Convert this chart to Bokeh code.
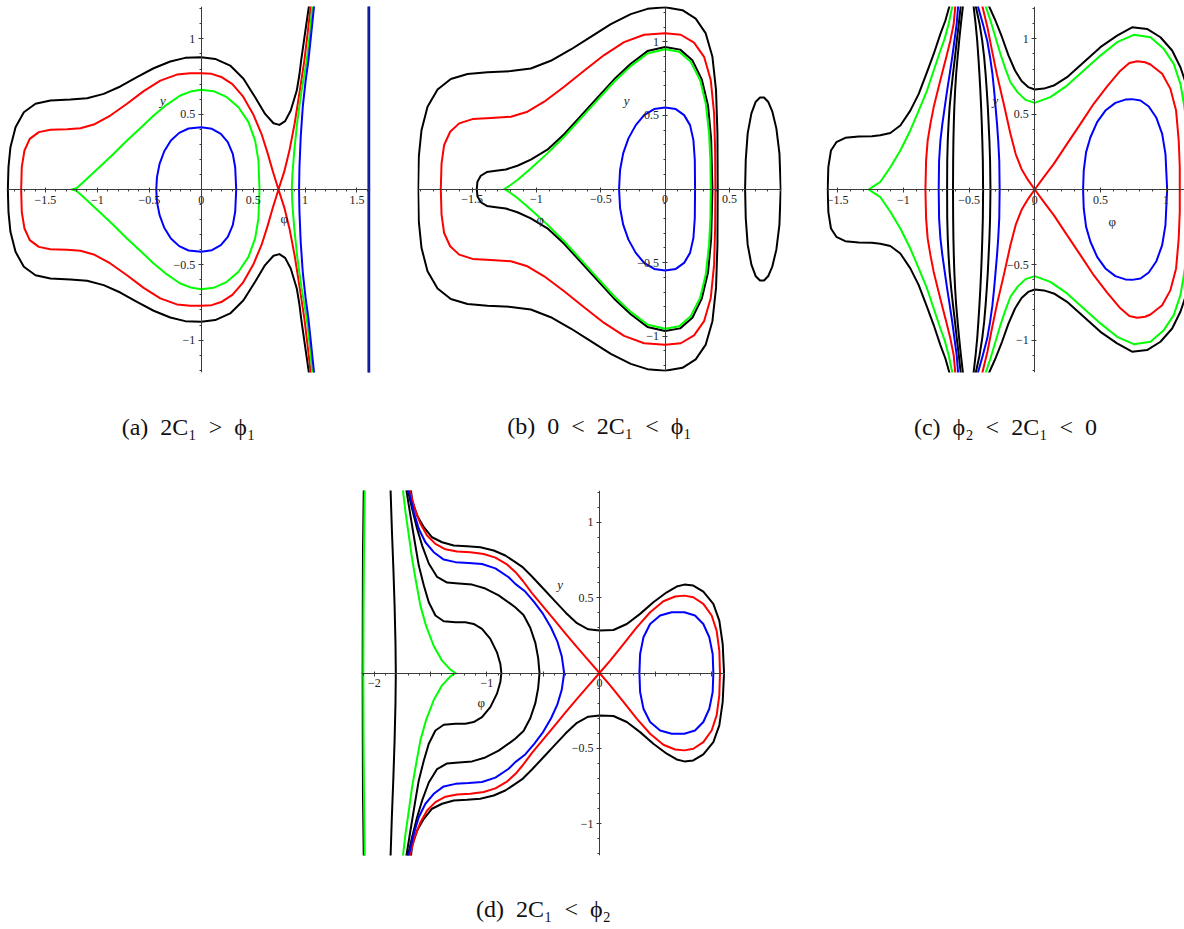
from bokeh.plotting import figure
from bokeh.models import Range1d, FixedTicker, Label, Title
from bokeh.layouts import row, column
from bokeh.embed import file_html
from bokeh.resources import INLINE

BLACK, RED, GREEN, BLUE = "#000000", "#ff0000", "#00ff00", "#0000ff"

# ---------------- panel (a): 2C1 > phi1 ----------------
a_blue_x = [-0.433, -0.426, -0.401, -0.356, -0.292, -0.212, -0.122, 0.0, 0.103, 0.189, 0.256, 0.304, 0.327, 0.337]
a_blue_y = [0.0, 0.082, 0.170, 0.254, 0.325, 0.376, 0.405, 0.414, 0.403, 0.369, 0.314, 0.237, 0.148, 0.0]
a_green_x = [-1.244, -1.202, -1.147, -1.067, -0.971, -0.843, -0.715, -0.587, -0.458, -0.330, -0.202, -0.090, 0.0,
             0.119, 0.247, 0.359, 0.455, 0.519, 0.551, 0.561]
a_green_y = [0.0, 0.009, 0.042, 0.093, 0.155, 0.237, 0.325, 0.407, 0.491, 0.564, 0.624, 0.653, 0.662,
             0.653, 0.613, 0.546, 0.447, 0.325, 0.192, 0.0]
a_red_arc_x = [-1.734, -1.728, -1.702, -1.651, -1.564, -1.452, -1.292, -1.163, -1.035, -0.875, -0.715, -0.554,
               -0.394, -0.234, -0.106, 0.0, 0.1, 0.2, 0.3, 0.4, 0.5, 0.58, 0.64, 0.69, 0.744]
a_red_arc_y = [0.0, 0.148, 0.259, 0.336, 0.381, 0.396, 0.400, 0.407, 0.431, 0.491, 0.569, 0.653,
               0.723, 0.763, 0.772, 0.772, 0.768, 0.745, 0.70, 0.62, 0.50, 0.37, 0.24, 0.12, 0.0]
a_red_branch_x = [0.744, 0.80, 0.85, 0.90, 0.95, 0.993, 1.025, 1.055]
a_red_branch_y = [0.0, 0.12, 0.26, 0.44, 0.66, 0.856, 1.04, 1.221]
a_black_x = [1.038, 1.0, 0.962, 0.945, 0.920, 0.862, 0.808, 0.753, 0.696, 0.615, 0.519, 0.407, 0.279, 0.135, 0.0,
             -0.154, -0.298, -0.458, -0.619, -0.779, -0.939, -1.099, -1.260, -1.452, -1.596, -1.708, -1.788,
             -1.837, -1.856, -1.862]
a_black_y = [1.221, 1.04, 0.856, 0.76, 0.657, 0.524, 0.454, 0.429, 0.440, 0.502, 0.613, 0.735, 0.823, 0.867, 0.878,
             0.874, 0.850, 0.805, 0.746, 0.684, 0.635, 0.606, 0.597, 0.591, 0.569, 0.513, 0.414,
             0.281, 0.148, 0.0]
a_green_right_x = [1.07, 1.045, 1.016, 0.965, 0.925, 0.895, 0.878, 0.872]
a_green_right_y = [1.221, 1.03, 0.856, 0.65, 0.45, 0.25, 0.1, 0.0]
a_blue_right_x = [1.087, 1.06, 1.032, 1.005, 0.978, 0.958, 0.946, 0.942]
a_blue_right_y = [1.221, 1.04, 0.856, 0.72, 0.55, 0.35, 0.15, 0.0]
a_vline_x = [1.615, 1.615]
a_vline_y = [-1.3, 1.3]

# ---------------- panel (b): 0 < 2C1 < phi1 ----------------
b_blue_x = [-0.358, -0.350, -0.326, -0.285, -0.228, -0.163, -0.085, 0.0, 0.083, 0.148, 0.194, 0.220, 0.231, 0.233]
b_blue_y = [0.0, 0.129, 0.242, 0.344, 0.434, 0.502, 0.543, 0.554, 0.543, 0.502, 0.434, 0.333, 0.197, 0.0]
b_green_x = [-1.251, -1.212, -1.148, -1.044, -0.915, -0.785, -0.655, -0.526, -0.396, -0.267, -0.137, 0.0,
             0.109, 0.199, 0.272, 0.316, 0.342, 0.352, 0.355]
b_green_y = [0.0, 0.020, 0.061, 0.140, 0.242, 0.355, 0.480, 0.604, 0.729, 0.835, 0.921, 0.950,
             0.932, 0.864, 0.740, 0.581, 0.378, 0.197, 0.0]
b_black_in_x = [-1.464, -1.459, -1.433, -1.386, -1.316, -1.238, -1.148, -1.044, -0.915, -0.785, -0.655, -0.526,
                -0.396, -0.267, -0.137, 0.0, 0.117, 0.212, 0.285, 0.334, 0.358, 0.368]
b_black_in_y = [0.0, 0.050, 0.090, 0.115, 0.124, 0.133, 0.158, 0.200, 0.267, 0.372, 0.497, 0.621,
                0.745, 0.851, 0.937, 0.965, 0.947, 0.875, 0.745, 0.565, 0.34, 0.0]
b_red_x = [-1.744, -1.738, -1.718, -1.671, -1.601, -1.497, -1.355, -1.199, -1.070, -0.940, -0.785, -0.630,
           -0.474, -0.319, -0.163, 0.0, 0.122, 0.225, 0.303, 0.355, 0.381, 0.389, 0.391]
b_red_y = [0.0, 0.174, 0.299, 0.389, 0.446, 0.475, 0.482, 0.491, 0.525, 0.593, 0.695, 0.803,
           0.910, 0.998, 1.048, 1.059, 1.048, 0.995, 0.898, 0.740, 0.514, 0.265, 0.0]
b_black_out_x = [-1.920, -1.915, -1.894, -1.847, -1.769, -1.666, -1.536, -1.381, -1.199, -1.044, -0.889, -0.733,
                 -0.578, -0.422, -0.267, -0.137, 0.0, 0.135, 0.238, 0.316, 0.368, 0.396, 0.407, 0.409]
b_black_out_y = [0.0, 0.219, 0.400, 0.559, 0.676, 0.747, 0.781, 0.794, 0.801, 0.819, 0.871, 0.948,
                 1.034, 1.120, 1.188, 1.224, 1.235, 1.215, 1.158, 1.057, 0.898, 0.672, 0.378, 0.0]
b_oval_x = [0.622, 0.627, 0.642, 0.671, 0.705, 0.738, 0.769, 0.801, 0.834, 0.865, 0.889, 0.899]
b_oval_y = [0.0, 0.197, 0.378, 0.514, 0.593, 0.622, 0.622, 0.593, 0.525, 0.412, 0.242, 0.0]

# ---------------- panel (c): phi2 < 2C1 < 0 ----------------
c_blue_x = [0.368, 0.373, 0.391, 0.424, 0.475, 0.538, 0.614, 0.690, 0.741, 0.805, 0.868, 0.926, 0.970, 0.995, 1.008]
c_blue_y = [0.0, 0.126, 0.248, 0.347, 0.447, 0.524, 0.575, 0.597, 0.600, 0.591, 0.551, 0.476, 0.369, 0.237, 0.0]
c_red_loop_x = [0.0, 0.069, 0.145, 0.246, 0.348, 0.449, 0.551, 0.652, 0.72, 0.78, 0.84, 0.881, 0.970, 1.033,
                1.076, 1.096, 1.104, 1.104]
c_red_loop_y = [0.0, 0.082, 0.170, 0.303, 0.436, 0.569, 0.684, 0.789, 0.84, 0.852, 0.845, 0.830, 0.768, 0.668,
                0.524, 0.325, 0.148, 0.0]
c_red_arm_x = [0.0, -0.05, -0.10, -0.145, -0.185, -0.236, -0.287, -0.325, -0.36, -0.40]
c_red_arm_y = [0.0, 0.062, 0.135, 0.235, 0.37, 0.57, 0.76, 0.92, 1.077, 1.221]
c_grid_y = [1.221, 1.1, 0.99, 0.879, 0.768, 0.657, 0.547, 0.436, 0.325, 0.192, 0.0]
c_red_left_x = [-0.604, -0.617, -0.642, -0.673, -0.706, -0.738, -0.769, -0.794, -0.815, -0.827, -0.832]
c_blue_left_x = [-0.583, -0.594, -0.611, -0.628, -0.647, -0.667, -0.685, -0.703, -0.718, -0.728, -0.731]
c_black_l1_x = [-0.563, -0.578, -0.593, -0.607, -0.622, -0.636, -0.648, -0.656, -0.662, -0.666, -0.667]
c_black_l2_x = [-0.546, -0.562, -0.575, -0.587, -0.598, -0.606, -0.612, -0.616, -0.619, -0.621, -0.622]
c_black_r1_x = [-0.466, -0.450, -0.438, -0.429, -0.421, -0.414, -0.408, -0.403, -0.399, -0.395, -0.393]
c_black_r2_x = [-0.450, -0.420, -0.400, -0.385, -0.374, -0.365, -0.357, -0.351, -0.345, -0.340, -0.337]
c_blue_r_x = [-0.434, -0.395, -0.362, -0.340, -0.322, -0.309, -0.298, -0.287, -0.278, -0.270, -0.267]
c_green_left_x = [-0.626, -0.655, -0.686, -0.718, -0.769, -0.820, -0.883, -0.947, -1.023, -1.099, -1.176, -1.225, -1.264]
c_green_left_y = [1.221, 1.1, 1.0, 0.923, 0.79, 0.657, 0.524, 0.392, 0.259, 0.148, 0.05, 0.022, 0.0]
c_black_left_x = [-0.648, -0.68, -0.718, -0.769, -0.82, -0.883, -0.947, -1.023, -1.099, -1.176, -1.239, -1.34,
                  -1.442, -1.51, -1.551, -1.571, -1.576]
c_black_left_y = [1.221, 1.122, 1.033, 0.9, 0.779, 0.635, 0.524, 0.425, 0.375, 0.36, 0.354, 0.352,
                  0.343, 0.314, 0.259, 0.148, 0.0]
c_green_right_x = [-0.375, -0.337, -0.299, -0.261, -0.223, -0.185, -0.13, -0.07, 0.0, 0.119, 0.246, 0.373, 0.5,
                   0.627, 0.754, 0.881, 0.982, 1.058, 1.109, 1.135, 1.16, 1.18, 1.185]
c_green_right_y = [1.221, 1.122, 1.011, 0.900, 0.801, 0.712, 0.645, 0.595, 0.575, 0.613, 0.690, 0.790, 0.889,
                   0.978, 1.027, 1.011, 0.934, 0.834, 0.701, 0.569, 0.42, 0.2, 0.0]
c_black_right_x = [-0.35, -0.299, -0.249, -0.2, -0.15, -0.1, -0.05, 0.0, 0.07, 0.145, 0.246, 0.373, 0.5, 0.627,
                   0.741, 0.855, 0.957, 1.046, 1.109, 1.16, 1.2, 1.22]
c_black_right_y = [1.221, 1.122, 1.011, 0.89, 0.79, 0.72, 0.68, 0.664, 0.67, 0.69, 0.746, 0.845, 0.945, 1.022,
                   1.077, 1.066, 1.011, 0.923, 0.812, 0.68, 0.4, 0.0]

# ---------------- panel (d): 2C1 < phi2 ----------------
d_red_loop_x = [0.0, 0.095, 0.213, 0.331, 0.450, 0.568, 0.672, 0.754, 0.834, 0.923, 0.997, 1.041, 1.065, 1.071]
d_red_loop_y = [0.0, 0.082, 0.192, 0.303, 0.403, 0.476, 0.507, 0.513, 0.502, 0.458, 0.381, 0.281, 0.148, 0.0]
d_red_arm_x = [0.0, -0.1, -0.2, -0.3, -0.4, -0.5, -0.6, -0.68, -0.748, -0.822, -0.925, -1.029, -1.147, -1.266,
               -1.369, -1.458, -1.532, -1.591, -1.641, -1.689]
d_red_arm_y = [0.0, 0.085, 0.172, 0.26, 0.35, 0.44, 0.53, 0.61, 0.67, 0.72, 0.765, 0.789, 0.80, 0.805,
               0.82, 0.856, 0.912, 0.989, 1.088, 1.221]
d_blue_loop_x = [0.355, 0.361, 0.391, 0.450, 0.539, 0.642, 0.754, 0.849, 0.923, 0.976, 1.006, 1.012]
d_blue_loop_y = [0.0, 0.126, 0.237, 0.325, 0.381, 0.403, 0.403, 0.381, 0.325, 0.237, 0.126, 0.0]
d_blue_left_x = [-1.700, -1.650, -1.606, -1.547, -1.473, -1.384, -1.280, -1.162, -1.044, -0.925, -0.807, -0.748,
                 -0.66, -0.58, -0.50, -0.43, -0.375, -0.335, -0.314]
d_blue_left_y = [1.221, 1.066, 0.956, 0.867, 0.801, 0.752, 0.735, 0.730, 0.723, 0.694, 0.635, 0.591,
                 0.54, 0.47, 0.39, 0.30, 0.21, 0.11, 0.0]
d_black_out_x = [-1.677, -1.665, -1.621, -1.561, -1.488, -1.399, -1.295, -1.177, -1.059, -0.940, -0.837, -0.748,
                 -0.68, -0.6, -0.5, -0.4, -0.3, -0.2, -0.1, 0.0, 0.124, 0.243, 0.361, 0.479, 0.598, 0.686, 0.754,
                 0.834, 0.923, 1.012, 1.065, 1.095, 1.107]
d_black_out_y = [1.221, 1.144, 1.044, 0.967, 0.900, 0.867, 0.845, 0.841, 0.834, 0.812, 0.779, 0.735,
                 0.70, 0.64, 0.56, 0.48, 0.40, 0.33, 0.29, 0.281, 0.285, 0.325, 0.392, 0.469, 0.535, 0.573, 0.586,
                 0.580, 0.540, 0.458, 0.347, 0.192, 0.0]
d_black_mid_x = [-1.706, -1.665, -1.621, -1.576, -1.517, -1.443, -1.354, -1.251, -1.132, -1.014, -0.896, -0.792,
                 -0.749, -0.675, -0.615, -0.57, -0.545, -0.533]
d_black_mid_y = [1.221, 1.088, 0.956, 0.845, 0.726, 0.637, 0.600, 0.593, 0.586, 0.560, 0.515, 0.46,
                 0.436, 0.385, 0.30, 0.20, 0.10, 0.0]
d_black_in_x = [-1.718, -1.680, -1.641, -1.606, -1.561, -1.517, -1.458, -1.384, -1.280, -1.192, -1.118, -1.044,
                -0.970, -0.911, -0.881, -0.872]
d_black_in_y = [1.221, 1.044, 0.867, 0.712, 0.580, 0.469, 0.381, 0.343, 0.336, 0.336, 0.325, 0.292,
                0.226, 0.137, 0.060, 0.0]
d_green_x = [-1.748, -1.724, -1.694, -1.665, -1.629, -1.591, -1.541, -1.473, -1.399, -1.325, -1.28]
d_green_y = [1.221, 1.066, 0.910, 0.755, 0.600, 0.445, 0.312, 0.179, 0.082, 0.022, 0.0]
d_black_vert_x = [-1.857, -1.845, -1.832, -1.821, -1.813, -1.810]
d_black_vert_y = [1.221, 0.95, 0.7, 0.45, 0.2, 0.0]
d_black_edge_x = [-2.095, -2.102, -2.106, -2.108]
d_green_edge_x = [-2.086, -2.093, -2.097, -2.099]
d_edge_y = [1.221, 0.8, 0.4, 0.0]

# ---------------- tick labels ----------------
a_xticks = [-1.5, -1, -0.5, 0, 0.5, 1, 1.5]
a_xlabels = ["\u22121.5", "\u22121", "\u22120.5", "0", "0.5", "1", "1.5"]
b_xticks = [-1.5, -1, -0.5, 0, 0.5]
b_xlabels = ["\u22121.5", "\u22121", "\u22120.5", "0", "0.5"]
c_xticks = [-1.5, -1, -0.5, 0, 0.5, 1]
c_xlabels = ["\u22121.5", "\u22121", "\u22120.5", "0", "0.5", "1"]
d_xticks = [-2, -1.5, -1, -0.5, 0, 0.5, 1]
d_xlabels = ["\u22122", "", "\u22121", "", "0", "", ""]
yticks = [-1, -0.5, 0.5, 1]
ylabels = ["\u22121", "\u22120.5", "0.5", "1"]

SP = "\u2002"
captions = ["(a)" + SP + "2C\u2081" + SP + ">" + SP + "\u03d5\u2081",
            "(b)" + SP + "0" + SP + "<" + SP + "2C\u2081" + SP + "<" + SP + "\u03d5\u2081",
            "(c)" + SP + "\u03d5\u2082" + SP + "<" + SP + "2C\u2081" + SP + "<" + SP + "0",
            "(d)" + SP + "2C\u2081" + SP + "<" + SP + "\u03d5\u2082"]


# ---------------- helpers ----------------
def reflect(xs, ys):
    xs, ys = list(xs), list(ys)
    return xs + xs[-2::-1], ys + [-v for v in ys[-2::-1]]


def mirror(xs, ys):
    return list(xs), [-v for v in ys]


def rev(xs, ys):
    return list(xs)[::-1], list(ys)[::-1]


def cat(s1, s2):
    return list(s1[0]) + list(s2[0])[1:], list(s1[1]) + list(s2[1])[1:]


def minor(lo, hi):
    n0, n1 = int(round(lo * 10)), int(round(hi * 10))
    return [k / 10 for k in range(n0, n1 + 1)]


SERIF = "Liberation Serif"


def panel(xr, yr, fw, fh, borders, xticks, xlabels, cap, cap_standoff, ylab_pos, phi_pos):
    bl, br, bt, bb = borders
    p = figure(x_range=Range1d(*xr), y_range=Range1d(*yr), frame_width=fw, frame_height=fh,
               min_border_left=bl, min_border_right=br, min_border_top=bt, min_border_bottom=bb,
               toolbar_location=None, output_backend="svg", background_fill_color="white",
               border_fill_color="white")
    p.outline_line_color = None
    p.grid.visible = False
    for ax in (p.xaxis[0], p.yaxis[0]):
        ax.fixed_location = 0
        ax.axis_line_color = "#3a3a3a"
        ax.axis_line_width = 1
        ax.major_tick_line_color = "#3a3a3a"
        ax.minor_tick_line_color = "#3a3a3a"
        ax.major_tick_in = 2
        ax.major_tick_out = 3
        ax.minor_tick_in = 0
        ax.minor_tick_out = 2
        ax.major_label_text_font = SERIF
        ax.major_label_text_font_size = "12px"
        ax.major_label_text_color = "#222222"
        ax.major_label_standoff = 3
    p.xaxis[0].ticker = FixedTicker(ticks=xticks, minor_ticks=minor(xr[0], xr[1]))
    p.xaxis[0].major_label_overrides = {t: s for t, s in zip(xticks, xlabels)}
    p.yaxis[0].ticker = FixedTicker(ticks=yticks, minor_ticks=minor(yr[0], yr[1]))
    p.yaxis[0].major_label_overrides = {t: s for t, s in zip(yticks, ylabels)}
    p.add_layout(Label(x=ylab_pos[0], y=ylab_pos[1], text="y", text_font=SERIF, text_font_style="italic",
                       text_font_size="13px", text_align="center", text_baseline="middle", text_color="#222222"))
    p.add_layout(Label(x=phi_pos[0], y=phi_pos[1], text="\u03c6", text_font=SERIF,
                       text_font_size="13px", text_align="center", text_baseline="middle", text_color="#222222"))
    p.add_layout(Title(text=cap, align="center", text_font=SERIF, text_font_size="24px",
                       text_font_style="normal", text_color="#111111", standoff=cap_standoff), "below")
    return p


def draw(p, path, color, width=2):
    p.line(path[0], path[1], line_color=color, line_width=width, line_join="round", line_cap="round")


# ---------------- (a) ----------------
pa = panel((-1.875, 1.63), (-1.215, 1.215), 364, 366, (6, 23, 6, 108), a_xticks, a_xlabels, captions[0], 78,
           (-0.37, 0.59), (0.80, -0.19))
draw(pa, reflect(a_black_x, a_black_y), BLACK)
draw(pa, reflect(*cat(rev(*mirror(a_red_branch_x, a_red_branch_y)), rev(a_red_arc_x, a_red_arc_y))), RED)
draw(pa, reflect(a_green_x, a_green_y), GREEN)
draw(pa, reflect(a_green_right_x, a_green_right_y), GREEN)
draw(pa, reflect(a_blue_x, a_blue_y), BLUE)
draw(pa, reflect(a_blue_right_x, a_blue_right_y), BLUE)
draw(pa, (a_vline_x, a_vline_y), BLUE, 3)
draw(pa, (a_vline_x, a_vline_y), "#1d3b4a", 1)

# ---------------- (b) ----------------
pb = panel((-1.925, 0.905), (-1.24, 1.24), 364, 365, (24, 20, 6, 109), b_xticks, b_xlabels, captions[1], 78,
           (-0.30, 0.60), (-0.97, -0.21))
draw(pb, reflect(b_black_out_x, b_black_out_y), BLACK)
draw(pb, reflect(b_black_in_x, b_black_in_y), BLACK)
draw(pb, reflect(b_oval_x, b_oval_y), BLACK)
draw(pb, reflect(b_red_x, b_red_y), RED)
draw(pb, reflect(b_green_x, b_green_y), GREEN)
draw(pb, reflect(b_blue_x, b_blue_y), BLUE)

# ---------------- (c) ----------------
pc = panel((-1.585, 1.14), (-1.215, 1.215), 358, 366, (25, 0, 6, 108), c_xticks, c_xlabels, captions[2], 78,
           (-0.30, 0.59), (0.59, -0.21))
draw(pc, reflect(c_black_left_x, c_black_left_y), BLACK)
draw(pc, reflect(c_black_l1_x, c_grid_y), BLACK)
draw(pc, reflect(c_black_l2_x, c_grid_y), BLACK)
draw(pc, reflect(c_black_r1_x, c_grid_y), BLACK)
draw(pc, reflect(c_black_r2_x, c_grid_y), BLACK)
draw(pc, reflect(c_black_right_x, c_black_right_y), BLACK)
draw(pc, reflect(c_red_left_x, c_grid_y), RED)
draw(pc, reflect(*cat(rev(c_red_arm_x, c_red_arm_y), mirror(c_red_loop_x, c_red_loop_y))), RED)
draw(pc, reflect(c_green_left_x, c_green_left_y), GREEN)
draw(pc, reflect(c_green_right_x, c_green_right_y), GREEN)
draw(pc, reflect(c_blue_left_x, c_grid_y), BLUE)
draw(pc, reflect(c_blue_r_x, c_grid_y), BLUE)
draw(pc, reflect(c_blue_x, c_blue_y), BLUE)

# ---------------- (d) ----------------
pd_ = panel((-2.115, 1.12), (-1.21, 1.21), 364, 365, (361, 0, 10, 106), d_xticks, d_xlabels, captions[3], 76,
            (-0.35, 0.586), (-1.05, -0.195))
draw(pd_, reflect(d_black_edge_x, d_edge_y), BLACK)
draw(pd_, reflect(d_green_edge_x, d_edge_y), GREEN)
draw(pd_, reflect(d_black_vert_x, d_black_vert_y), BLACK)
draw(pd_, reflect(d_black_out_x, d_black_out_y), BLACK)
draw(pd_, reflect(d_black_mid_x, d_black_mid_y), BLACK)
draw(pd_, reflect(d_black_in_x, d_black_in_y), BLACK)
draw(pd_, reflect(*cat(rev(d_red_arm_x, d_red_arm_y), mirror(d_red_loop_x, d_red_loop_y))), RED)
draw(pd_, reflect(d_green_x, d_green_y), GREEN)
draw(pd_, reflect(d_blue_left_x, d_blue_left_y), BLUE)
draw(pd_, reflect(d_blue_loop_x, d_blue_loop_y), BLUE)

layout = column(row(pa, pb, pc), pd_)

with open("out.html", "w") as f:
    f.write(file_html(layout, INLINE, title="phase portraits"))
